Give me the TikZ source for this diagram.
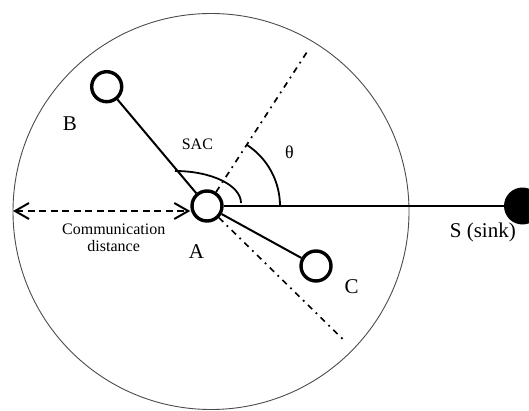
\documentclass[tikz,border=0pt]{standalone}
\usepackage{fontspec}
\setmainfont{Liberation Serif}
\usetikzlibrary{arrows.meta}
\begin{document}
\begin{tikzpicture}[x=1pt,y=1pt,
  sensor/.style={circle,draw=black,line width=3.4pt,minimum size=30pt,inner sep=0pt,fill=white},
  sinknode/.style={circle,fill=black,minimum size=37pt,inner sep=0pt},
  link/.style={line width=2pt},
  dashdot/.style={line width=1.7pt,dash pattern=on 6pt off 5pt on 1.8pt off 5pt},
  biglabel/.style={font=\fontsize{21}{25}\selectfont,inner sep=0pt},
  smalllabel/.style={font=\fontsize{16}{18}\selectfont,inner sep=0pt,align=center}]
\useasboundingbox (0,0) rectangle (529,410);
\clip (0,0) rectangle (529,410);
\fill[white] (0,0) rectangle (529,410);
% communication range
\draw[line width=0.9pt,black!70] (211,198.5) circle[radius=198];
% nodes
\node[sensor] (A) at (207,204) {};
\node[sensor] (B) at (106.7,323.3) {};
\node[sensor] (C) at (316,144) {};
\node[sinknode] (S) at (522.5,204) {};
\coordinate (U) at (308.3,360);
\coordinate (D) at (346,67.7);
\coordinate (L) at (13,199);
% connectors
\draw[link] (A) -- (B);
\draw[link] (A) -- (C);
\draw[link] (A) -- (S);
\draw[dashdot] (A) -- (U);
\draw[dashdot] (A) -- (D);
\draw[line width=2.2pt,dash pattern=on 7pt off 4.5pt,
  {Straight Barb[length=14pt,width=16pt,line width=2pt]}-{Straight Barb[length=14pt,width=16pt,line width=2pt]}]
  (L) -- (L -| A.west);
% angles
\draw[line width=1.8pt] (175,239) arc[start angle=90,end angle=0,x radius=66,y radius=32];
\draw[line width=1.8pt] ([shift={(0:73pt)}]A.center) arc[start angle=0,end angle=57,radius=73pt];
% labels
\node[biglabel] (lB) at (70,286) {B};
\node[biglabel] (lA) at (196.4,158.7) {A};
\node[biglabel] (lC) at (351.7,123.3) {C};
\node[biglabel] (lS) at (482.8,177.2) {S (sink)};
\node[smalllabel] (lSAC) at (197.4,266) {SAC};
\node[font=\fontsize{18}{20}\selectfont,inner sep=0pt] (lth) at (289.5,257.5) {θ};
\node[smalllabel] (lcd) at (113.7,172.4) {Communication\\[-1pt]distance};
\end{tikzpicture}
\end{document}
